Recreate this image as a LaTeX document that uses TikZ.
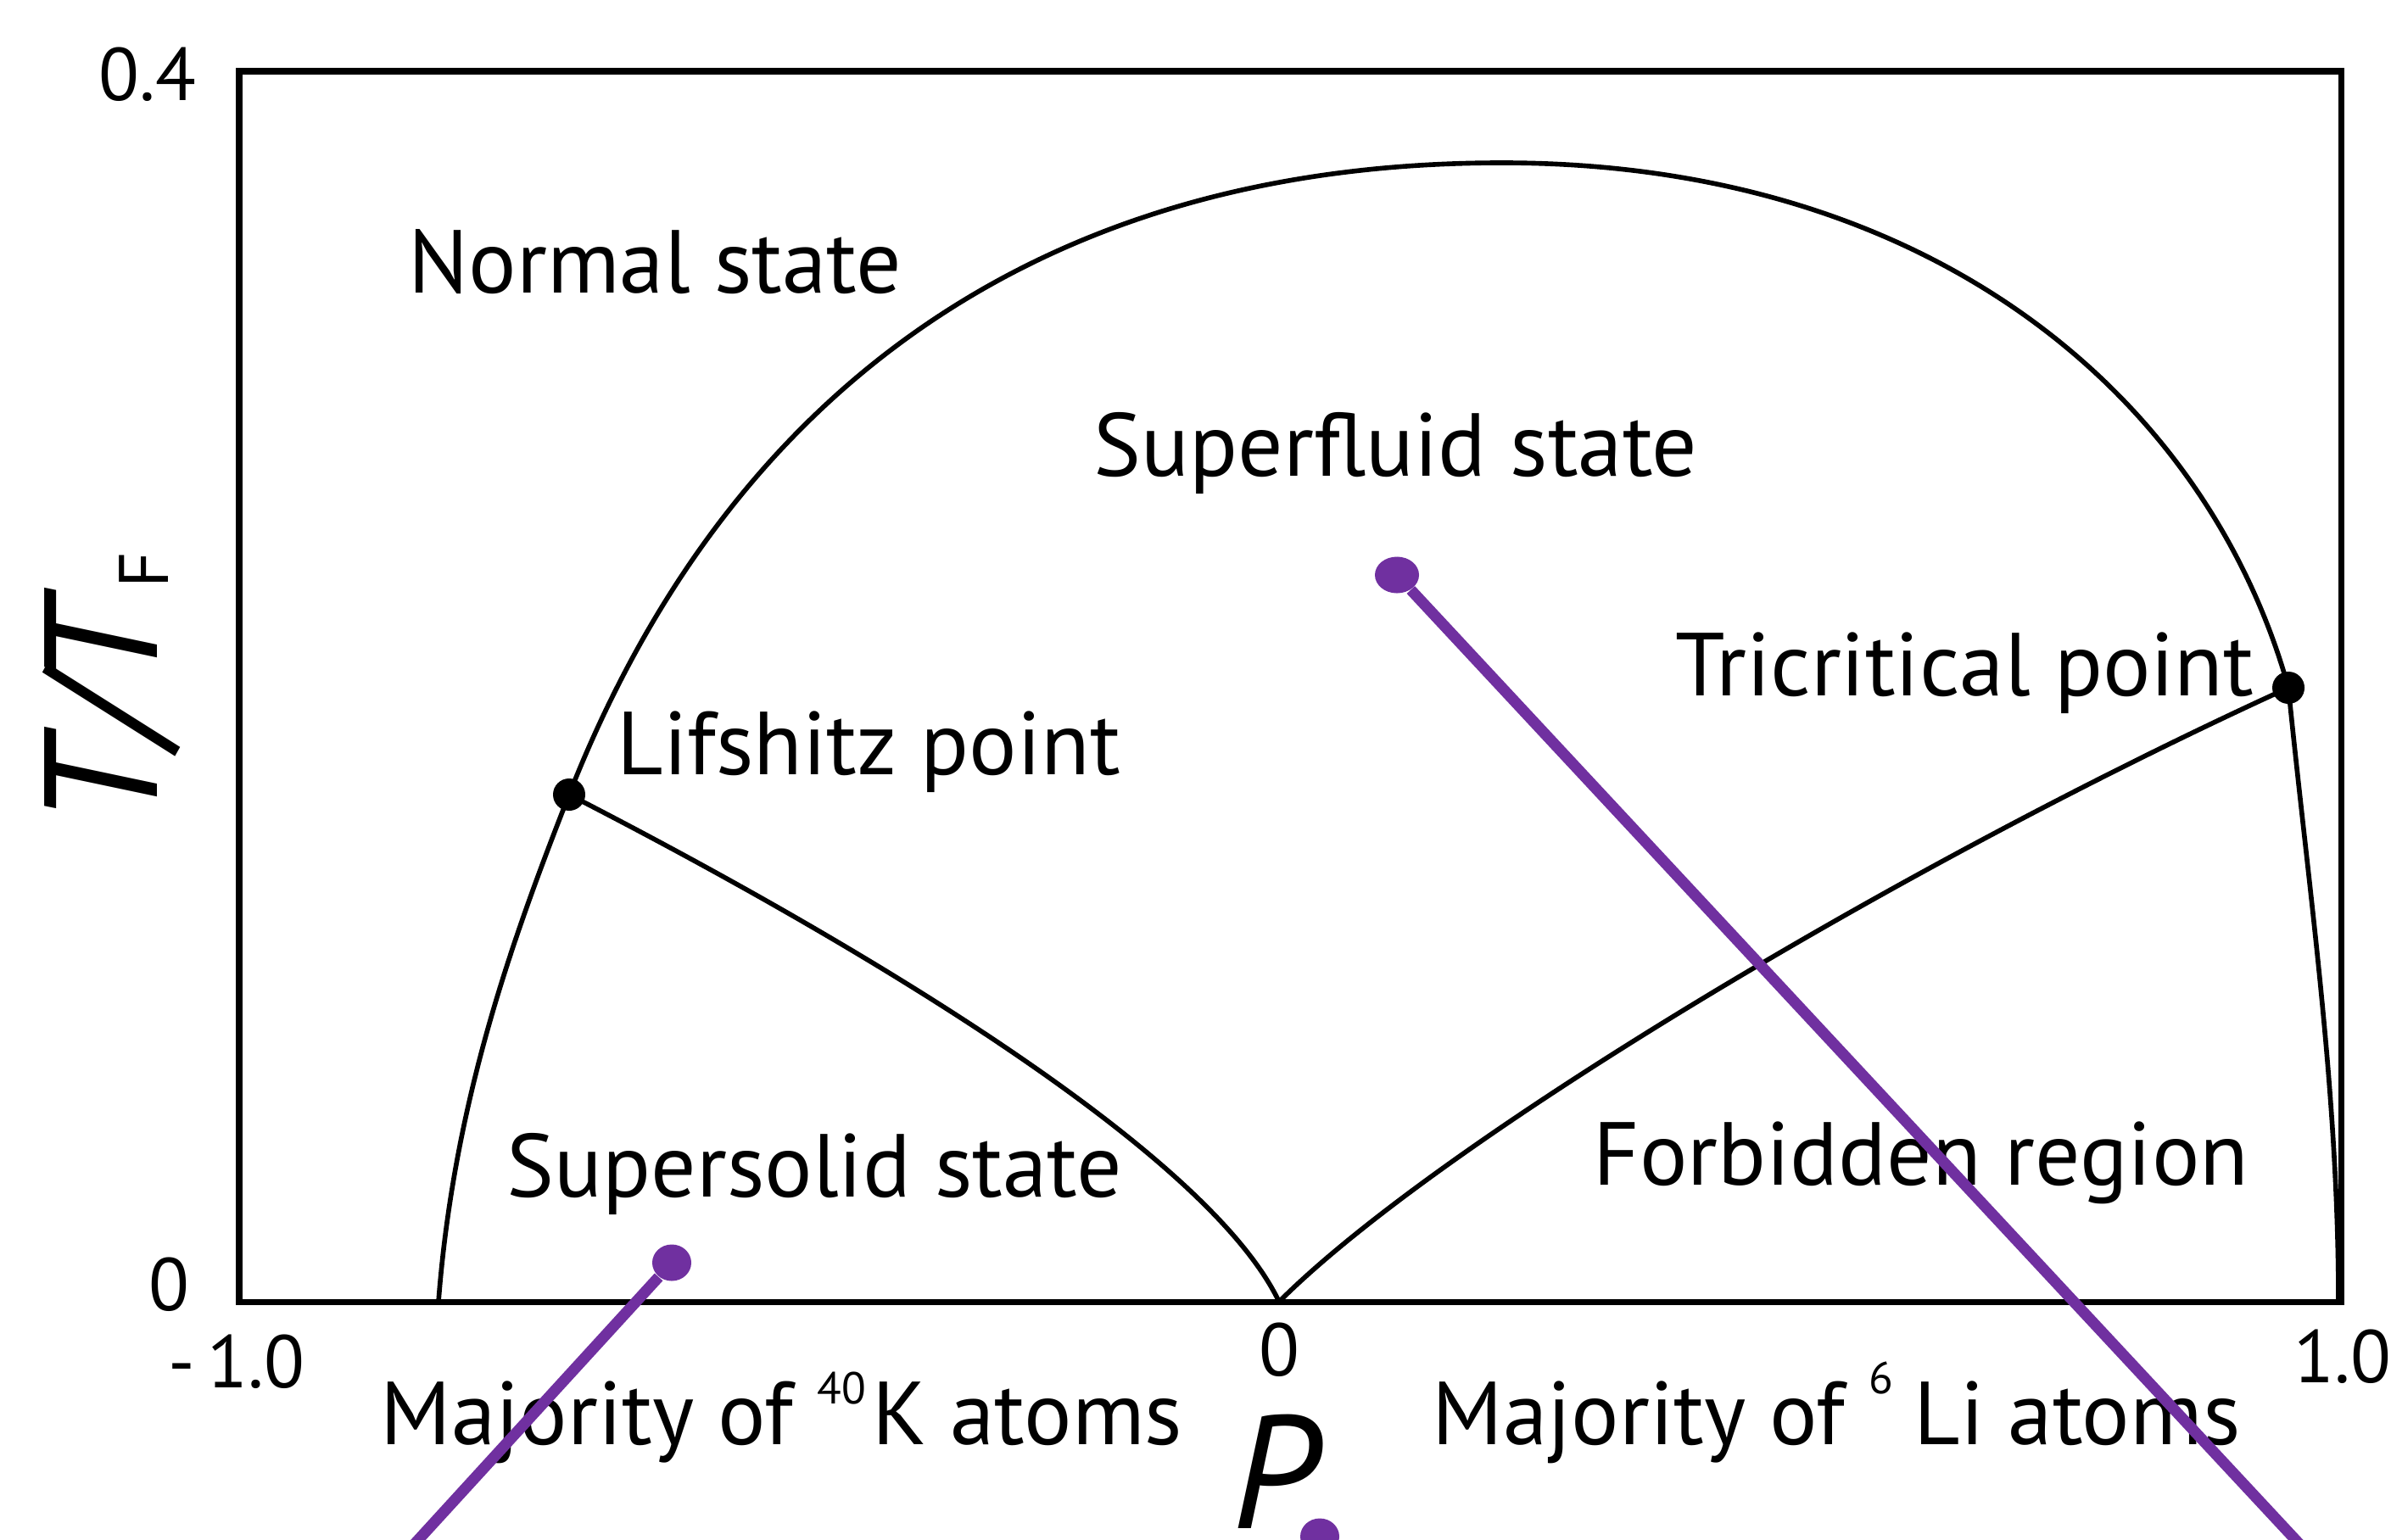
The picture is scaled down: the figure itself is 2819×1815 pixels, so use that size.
\documentclass[tikz,border=0pt]{standalone}
\usepackage{fontspec}
\setmainfont{PT Sans}
\usetikzlibrary{shapes.geometric}
\definecolor{lpurple}{HTML}{7030A0}
\begin{document}
\begin{tikzpicture}[x=0.01cm,y=-0.01cm,
  lbl/.style={anchor=base west, inner sep=0, font=\fontsize{30}{36}\selectfont},
  ticklbl/.style={anchor=center, inner sep=0, font=\fontsize{25}{30}\selectfont},
  curve/.style={line width=1.6pt, line join=round, line cap=round},
  frame/.style={line width=2pt, line join=miter},
  critpt/.style={circle, fill=black, inner sep=0, minimum size=0.38cm},
  pdot/.style={ellipse, fill=lpurple, inner sep=0, minimum width=0.46cm, minimum height=0.43cm},
  pline/.style={draw=lpurple, line width=3.7pt}]
\useasboundingbox (0,0) rectangle (2819,1815);
% frame
\draw[frame] (282,84) rectangle (2760,1535);
% key coordinates
\coordinate (dL) at (517,1535);
\coordinate (dR) at (2757,1535);
\coordinate (cusp) at (1508,1535);
\coordinate (lifc) at (671,937);
\coordinate (tric) at (2698,811);
\coordinate (peak) at (1771,192);
% dome
\draw[curve] (dL) .. controls (535,1300) and (603,1110) .. (lifc)
  .. controls (836,517) and (1171,192) .. (peak)
  .. controls (2281,192) and (2603,471) .. (tric)
  .. controls (2722,1051) and (2757,1285) .. (dR);
% Lifshitz line
\draw[curve] (lifc) .. controls (1000,1106) and (1422,1355) .. (cusp);
% tricritical line
\draw[curve] (cusp) .. controls (1698,1345) and (2248,1016) .. (tric);
% critical points
\node[critpt] (lif) at (lifc) {};
\node[critpt] (tri) at (tric) {};
% labels
\node[lbl] (normal) at (481,345) {Normal state};
\node[lbl] (superfluid) at (1289,561) {Superfluid state};
\node[lbl] (lifl) at (727,913) {Lifshitz point};
\node[lbl] (tril) at (1975,820) {Tricritical point};
\node[lbl] (supersolid) at (597,1411) {Supersolid state};
\node[lbl] (forbidden) at (1878,1397) {Forbidden region};
\node[lbl] (majK) at (448,1703) {Majority of \raisebox{13.4pt}{\fontsize{15}{15}\selectfont 40}\hspace{2pt}K atoms};
\node[lbl] (majLi) at (1688,1703) {Majority of \raisebox{17pt}{\fontsize{15}{15}\selectfont 6}\hspace{7pt}Li atoms};
% ticks
\node[ticklbl] (t04) at (174,88) {0.4};
\node[ticklbl] (t0y) at (199,1515) {0};
\node[ticklbl] (tm1) at (279,1606) {-\,1.0};
\node[ticklbl] (t0x) at (1508,1592) {0};
\node[ticklbl] (tp1) at (2762,1600) {1.0};
% axis titles
\node[anchor=base west, inner sep=0, rotate=90, font=\fontsize{54}{60}\selectfont] (ylab) at (185,975) {\textit{T/T}\raisebox{-3.7pt}{\fontsize{23.5}{24}\selectfont F}};
\node[anchor=base west, inner sep=0, font=\fontsize{54}{60}\selectfont] (xlab) at (1452,1802) {\textit{P}};
% purple markers
\node[pdot] (sd1) at (792,1489) {};
\node[pdot, minimum width=0.52cm] (sd2) at (1647,678) {};
\node[pdot] (sd3) at (1556,1812) {};
\coordinate (e1) at (471,1840);
\coordinate (e2) at (2729,1840);
\draw[pline] (sd1) -- (e1);
\draw[pline] (sd2) -- (e2);
\end{tikzpicture}
\end{document}
